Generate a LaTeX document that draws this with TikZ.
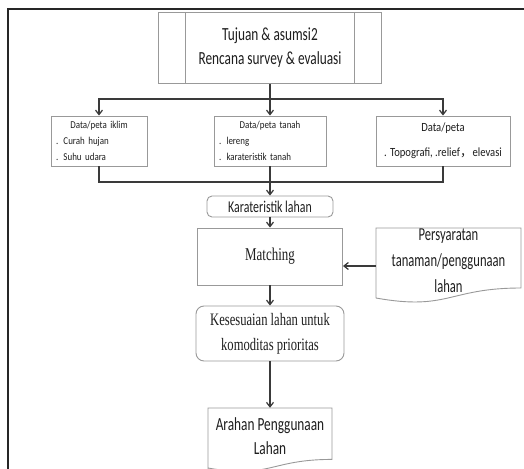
\documentclass[tikz,border=0pt]{standalone}
\usepackage{fontspec}
\usetikzlibrary{arrows.meta,calc}
\newfontfamily\calbig[FakeStretch=0.72]{Carlito}
\newfontfamily\calmid[FakeStretch=0.68]{Carlito}
\newfontfamily\calsm[FakeStretch=0.85]{Carlito}
\newfontfamily\tnr[FakeStretch=0.72]{Liberation Serif}
\newfontfamily\cjkf{Noto Sans CJK SC}
\definecolor{boxgray}{HTML}{999999}
\definecolor{lngray}{HTML}{3A3A3A}
\definecolor{txt}{HTML}{1E1E1E}
\tikzset{
  box/.style={draw=boxgray, line width=0.9pt, inner sep=0pt, text=txt},
  plain/.style={draw=none, inner sep=0pt, text=txt},
  conn/.style={draw=lngray, line width=1.2pt},
  arr/.style={conn, -{Straight Barb[length=4.5pt,width=7pt]}},
  frame/.style={draw=black!85, line width=1.5pt},
  bigsans/.style={font=\calbig\fontsize{18.5}{24}\selectfont},
  bigserif/.style={font=\tnr\fontsize{18}{25}\selectfont},
  smallsans/.style={font={\calsm\fontsize{10.5}{16}\selectfont\parindent=0pt}},
}
\begin{document}
\begin{tikzpicture}[x=1pt,y=-1pt]
\useasboundingbox (0,0) rectangle (524,468);
\clip (0,0) rectangle (524,468);
\fill[white] (0,0) rectangle (524,468);
% outer frame
\draw[frame] (8,470) -- (8,9) -- (526,9);

% top box
\node[box, bigsans, minimum width=223pt, minimum height=71pt, align=center] (top) at (270,48)
  {Tujuan \& asumsi2\\Rencana survey \& evaluasi};
\draw[box] ($(top.north west)+(27.5,0)$) -- ($(top.south west)+(27.5,0)$);
\draw[box] ($(top.north east)+(-27.5,0)$) -- ($(top.south east)+(-27.5,0)$);

% data boxes
\node[box, smallsans, minimum width=96pt, minimum height=50pt, text width=86pt, align=left] (d1) at (99,141)
  {\makebox[86pt][c]{Data/peta iklim}\\. Curah hujan\\. Suhu udara};
\node[box, smallsans, minimum width=112pt, minimum height=50pt, text width=102pt, align=left] (d2) at (270,141)
  {\makebox[102pt][c]{Data/peta tanah}\\. lereng\\. karateristik tanah};
\node[box, font=\calsm\fontsize{12.5}{25}\selectfont, minimum width=134pt, minimum height=50pt, align=center] (d3) at (443,141)
  {Data/peta\\. Topografi, .relief{\cjkf\fontsize{12.5}{25}\selectfont ，}elevasi};

\coordinate (j1) at (270,99);
\coordinate (j2) at (270,182);

% central column
\node[box, font=\calbig\fontsize{16.5}{20}\selectfont, rounded corners=5pt, minimum width=126pt, minimum height=21pt] (kar) at (270,206.5) {Karateristik lahan};
\node[box, bigserif, minimum width=145pt, minimum height=57pt] (mat) at (270,256.5) {Matching};
\node[box, font=\tnr\fontsize{17.5}{25}\selectfont, rounded corners=8pt, minimum width=148pt, minimum height=55pt, align=center] (kes) at (270,333.5)
  {Kesesuaian lahan untuk\\komoditas prioritas};
\node[plain, minimum width=124pt, minimum height=56pt, align=center, font=\calbig\fontsize{18.5}{24}\selectfont] (arah) at (270,436)
  {Arahan Penggunaan\\Lahan};
\draw[box] (208,470) -- (208,408) -- (332,408) -- (332,459.4)
  .. controls (270,459.4) and (270,479) .. (208,468);

% requirement document
\node[plain, font=\calmid\fontsize{18.5}{26}\selectfont, minimum width=145pt, minimum height=68pt, align=center] (pers) at (448.5,261)
  {Persyaratan\\tanaman/penggunaan\\lahan};
\draw[box] (376,298) -- (376,228) -- (521,228) -- (521,288)
  .. controls (448.5,288) and (448.5,311) .. (376,298);
\coordinate (pin) at ([yshift=-5pt]pers.west);

% connectors
\draw[conn] (top.south) -- (j1);
\draw[arr] (j1) -| (d1.north);
\draw[arr] (j1) -| (d3.north);
\draw[arr] (j1) -- (d2.north);
\draw[conn] (d1.south) |- (j2);
\draw[conn] (d3.south) |- (j2);
\draw[arr] (d2.south) -- (kar.north);
\draw[arr] (kar.south) -- (mat.north);
\draw[arr] (pin) -- (pin -| mat.east);
\draw[arr] (mat.south) -- (kes.north);
\draw[arr] (kes.south) -- (arah.north);
\end{tikzpicture}
\end{document}
